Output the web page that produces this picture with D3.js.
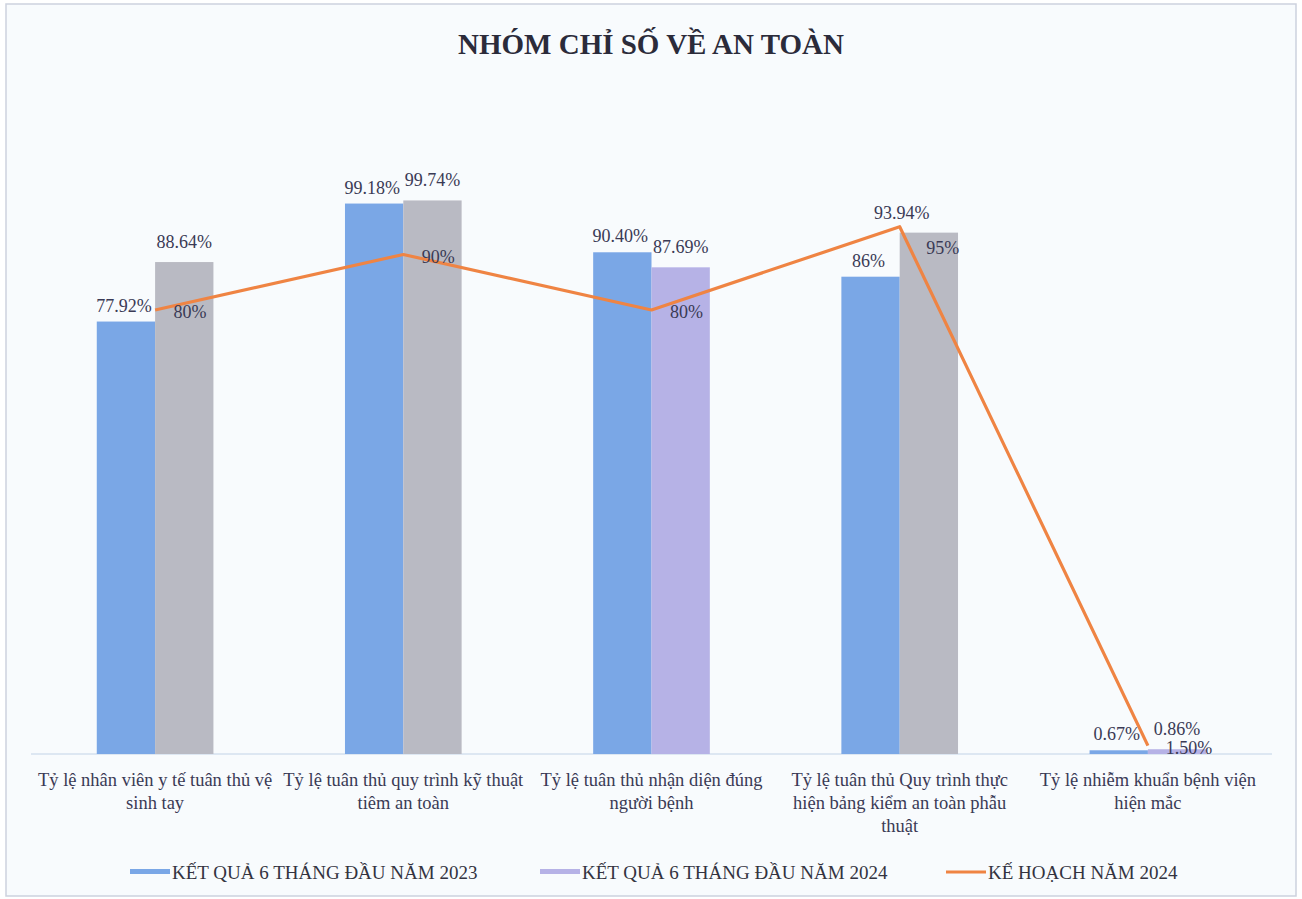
<!DOCTYPE html>
<html>
<head>
<meta charset="utf-8">
<script src="https://cdn.jsdelivr.net/npm/d3@7"></script>
<style>
  html, body { margin: 0; padding: 0; background: #ffffff; }
  svg { display: block; }
</style>
</head>
<body>
<svg id="chart" width="1302" height="899"></svg>
<script>
// ---- DATA ----
const categories = [
  "Tỷ lệ nhân viên y tế tuân thủ vệ\nsinh tay",
  "Tỷ lệ tuân thủ quy trình kỹ thuật\ntiêm an toàn",
  "Tỷ lệ tuân thủ nhận diện đúng\nngười bệnh",
  "Tỷ lệ tuân thủ Quy trình thực\nhiện bảng kiểm an toàn phẫu\nthuật",
  "Tỷ lệ nhiễm khuẩn bệnh viện\nhiện mắc"
];
const result2023 = [77.92, 99.18, 90.40, 86, 0.67];
const result2024 = [88.64, 99.74, 87.69, 93.94, 0.86];
const plan2024   = [80, 90, 80, 95, 1.50];
const labels2023 = ["77.92%", "99.18%", "90.40%", "86%", "0.67%"];
const labels2024 = ["88.64%", "99.74%", "87.69%", "93.94%", "0.86%"];
const labelsPlan = ["80%", "90%", "80%", "95%", "1.50%"];
const seriesNames = ["KẾT QUẢ 6 THÁNG ĐẦU NĂM 2023", "KẾT QUẢ 6 THÁNG ĐẦU NĂM 2024", "KẾ HOẠCH NĂM 2024"];
const title = "NHÓM CHỈ SỐ VỀ AN TOÀN";

// ---- STYLE ----
const colBlue = "#7aa7e6";
const col2024 = ["#b9bac3", "#b9bac3", "#b6b2e6", "#b9bac3", "#b6b2e6"];
const colLegend2024 = "#b6b2e6";
const colLine = "#ef8443";
const textCol = "#3a3a55";
const font = "'Liberation Serif', 'DejaVu Serif', serif";
// manual label nudges (as in the reference layout)
const nudge2024X = [0, 0, 0, -27, 0];
const nudgePlanX = [0, 0, 0, 8, 6];
const nudgePlanY = [0, 0, 0, 19, 0];

const svg = d3.select("#chart");
svg.append("rect").attr("x", 6).attr("y", 4).attr("width", 1290).attr("height", 892)
  .attr("fill", "#f8fbfd").attr("stroke", "#cdd2de").attr("stroke-width", 1.5);

const x = d3.scaleBand().domain(d3.range(categories.length)).range([31, 1272]).padding(0);
const y = d3.scaleLinear().domain([0, 100]).range([754, 199]);
const bw = x.bandwidth() * 0.235;
const cx = i => x(i) + x.bandwidth() / 2;

svg.append("text").attr("x", 651).attr("y", 54).attr("text-anchor", "middle")
  .attr("font-family", font).attr("font-weight", "bold").attr("font-size", 29)
  .attr("fill", "#2b2b3a").text(title);

// axis line
svg.append("line").attr("x1", 31).attr("x2", 1272).attr("y1", y(0)).attr("y2", y(0))
  .attr("stroke", "#d4e0ee").attr("stroke-width", 1.5);

// bars
const g = svg.append("g");
g.selectAll("rect.b23").data(result2023).enter().append("rect")
  .attr("x", (d, i) => cx(i) - bw).attr("width", bw)
  .attr("y", d => y(d)).attr("height", d => y(0) - y(d)).attr("fill", colBlue);
g.selectAll("rect.b24").data(result2024).enter().append("rect")
  .attr("x", (d, i) => cx(i)).attr("width", bw)
  .attr("y", d => y(d)).attr("height", d => y(0) - y(d))
  .attr("fill", (d, i) => col2024[i]);

// line
const line = d3.line().x((d, i) => cx(i)).y(d => y(d));
svg.append("path").datum(plan2024).attr("d", line)
  .attr("fill", "none").attr("stroke", colLine).attr("stroke-width", 3.2)
  .attr("stroke-linejoin", "round");

// labels
const lab = svg.append("g").attr("font-family", font).attr("font-size", 18)
  .attr("fill", textCol).attr("text-anchor", "middle");
lab.selectAll("text.l23").data(result2023).enter().append("text")
  .attr("x", (d, i) => cx(i) - bw / 2 - 2).attr("y", d => y(d) - 10)
  .text((d, i) => labels2023[i]);
lab.selectAll("text.l24").data(result2024).enter().append("text")
  .attr("x", (d, i) => cx(i) + bw / 2 + nudge2024X[i]).attr("y", d => y(d) - 14)
  .text((d, i) => labels2024[i]);
lab.selectAll("text.lp").data(plan2024).enter().append("text")
  .attr("x", (d, i) => cx(i) + 35 + nudgePlanX[i]).attr("y", (d, i) => y(d) + 8 + nudgePlanY[i])
  .text((d, i) => labelsPlan[i]);

// category labels
const cl = svg.append("g").attr("font-family", font).attr("font-size", 18.5)
  .attr("fill", textCol).attr("text-anchor", "middle");
categories.forEach((c, i) => {
  const t = cl.append("text").attr("x", cx(i)).attr("y", 786);
  c.split("\n").forEach((ln, j) => {
    t.append("tspan").attr("x", cx(i)).attr("dy", j === 0 ? 0 : 23).text(ln);
  });
});

// legend
const lg = svg.append("g").attr("font-family", font).attr("font-size", 19).attr("fill", "#333340");
const legendX = [130, 540, 946];
const ly = 872;
lg.append("rect").attr("x", legendX[0]).attr("y", ly - 3).attr("width", 40).attr("height", 5).attr("fill", colBlue);
lg.append("rect").attr("x", legendX[1]).attr("y", ly - 3).attr("width", 40).attr("height", 5).attr("fill", colLegend2024);
lg.append("line").attr("x1", legendX[2]).attr("x2", legendX[2] + 40).attr("y1", ly).attr("y2", ly)
  .attr("stroke", colLine).attr("stroke-width", 3);
seriesNames.forEach((s, i) => {
  lg.append("text").attr("x", legendX[i] + 42).attr("y", ly + 7).text(s);
});
</script>
</body>
</html>
